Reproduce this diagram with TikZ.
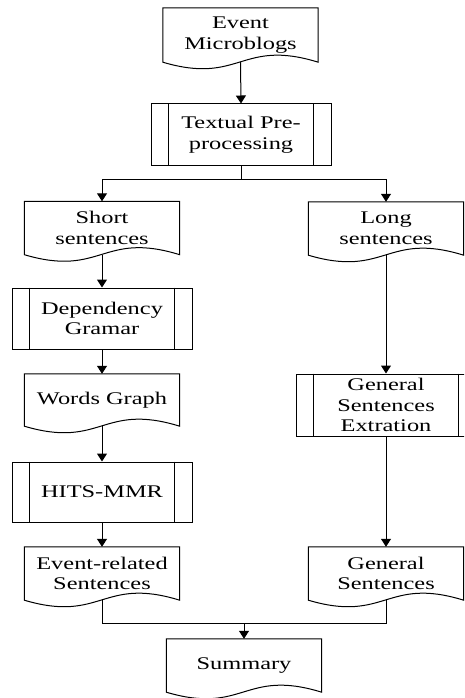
\documentclass[tikz,border=0pt]{standalone}
\usepackage{fontspec}
\setmainfont[FakeStretch=1.37]{Liberation Serif}
\usetikzlibrary{arrows.meta,calc}
\tikzset{
  txt/.style={font=\fontsize{17.8}{20.5}\selectfont, align=center, inner sep=0pt},
  docnode/.style={txt, draw=none, minimum width=155pt, minimum height=53pt},
  subnode/.style={txt, draw, line width=1pt, minimum width=180pt, minimum height=61pt},
  conn/.style={line width=1pt, -{Triangle[length=8pt,width=10pt]}},
  plainline/.style={line width=1pt},
}
\newcommand{\docoutline}[1]{\draw[plainline] (#1.north west) -- (#1.north east) -- (#1.south east)
   .. controls ($(#1.south)+(0,-24)$) and ($(#1.south)+(0,23)$) .. (#1.south west) -- cycle;}
\newcommand{\subbars}[1]{\draw[plainline] ([xshift=18pt]#1.north west) -- ([xshift=18pt]#1.south west)
   ([xshift=-18pt]#1.north east) -- ([xshift=-18pt]#1.south east);}
\begin{document}
\begin{tikzpicture}[x=1pt,y=-1pt]
\clip (0,0) rectangle (464,698);
% top
\node[docnode, minimum height=54pt] (ev) at (240.5,35) {Event\\Microblogs};
\docoutline{ev}
\node[subnode] (tp) at (241,134.5) {Textual Pre-\\processing};
\subbars{tp}
% left column
\node[docnode] (ss) at (102,228) {Short\\sentences};
\docoutline{ss}
\node[subnode] (dg) at (102,318.5) {Dependency\\Gramar};
\subbars{dg}
\node[docnode, minimum height=52pt] (wg) at (102,400) {Words Graph};
\docoutline{wg}
\node[subnode, minimum height=60pt] (hm) at (102,492) {HITS-MMR};
\subbars{hm}
\node[docnode] (er) at (102,573.5) {Event-related\\Sentences};
\docoutline{er}
% right column
\node[docnode] (ls) at (386,228.5) {Long\\sentences};
\docoutline{ls}
\node[subnode, minimum height=62pt] (ge) at (386,405) {General\\Sentences\\Extration};
\subbars{ge}
\node[docnode] (gs) at (386,573.5) {General\\Sentences};
\docoutline{gs}
% bottom
\node[docnode] (sm) at (244,665.5) {Summary};
\docoutline{sm}
% connectors
\coordinate (br) at (241,179);
\coordinate (mg) at (244,623);
\draw[conn] (ev.south) -- (tp.north);
\draw[plainline] (tp.south) -- (br);
\draw[conn] (br) -| (ss.north);
\draw[conn] (br) -| (ls.north);
\draw[conn] (ss.south) -- (dg.north);
\draw[conn] (dg.south) -- (wg.north);
\draw[conn] (wg.south) -- (hm.north);
\draw[conn] (hm.south) -- (er.north);
\draw[conn] (ls.south) -- (ge.north);
\draw[conn] (ge.south) -- (gs.north);
\draw[plainline] (er.south) |- (mg);
\draw[plainline] (gs.south) |- (mg);
\draw[conn] (mg) -- (sm.north);
\end{tikzpicture}
\end{document}
